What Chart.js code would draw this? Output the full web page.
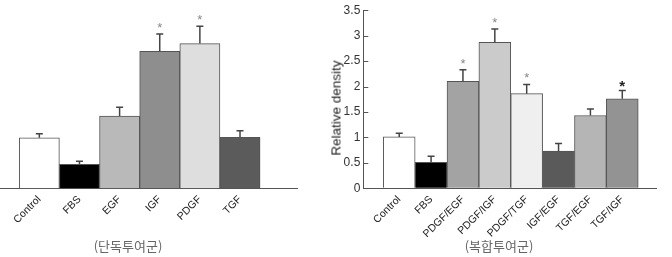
<!DOCTYPE html>
<html>
<head>
<meta charset="utf-8">
<script src="https://cdn.jsdelivr.net/npm/chart.js@4/dist/chart.umd.min.js"></script>
<style>
  html, body { margin: 0; padding: 0; background: #fff; }
  #wrap { position: relative; width: 672px; height: 257px; overflow: hidden; }
  .cv { position: absolute; top: 0; }
  .grp { position: absolute; top: 237px; font-family: "Noto Sans CJK KR", sans-serif; font-size: 13px; color: #666; white-space: nowrap; transform: translateX(-50%); line-height: 18px; }
  #ytitle { position: absolute; left: 336px; top: 108px; font-family: "Liberation Sans", Arial, sans-serif; font-size: 13.5px; color: #222; white-space: nowrap; transform: translate(-50%, -50%) rotate(-90deg); }
</style>
</head>
<body>
<div id="wrap">
  <div class="cv" style="left:0px;width:312px;height:257px"><canvas id="c1"></canvas></div>
  <div class="cv" style="left:300px;width:372px;height:257px"><canvas id="c2"></canvas></div>
  <div class="grp" style="left:128px">(단독투여군)</div>
  <div class="grp" style="left:499px">(복합투여군)</div>
  <div id="ytitle">Relative density</div>
</div>
<script>
// ---- data: single treatment (left) ----
const singleLabels = ["Control", "FBS", "EGF", "IGF", "PDGF", "TGF"];
const singleValues = [0.99, 0.47, 1.42, 2.69, 2.84, 1.00];
const singleErrors = [0.08, 0.06, 0.17, 0.34, 0.34, 0.13];
const singleSig    = [false, false, false, true, true, false];

// ---- data: combined treatment (right) ----
const comboLabels = ["Control", "FBS", "PDGF/EGF", "PDGF/IGF", "PDGF/TGF", "IGF/EGF", "TGF/EGF", "TGF/IGF"];
const comboValues = [1.01, 0.51, 2.10, 2.87, 1.86, 0.73, 1.43, 1.76];
const comboErrors = [0.07, 0.12, 0.23, 0.26, 0.18, 0.15, 0.13, 0.16];
const comboSig    = [false, false, true, true, true, false, false, true];

// ---- y scale ticks ----
const yMin = 0, yMax = 3.5, yStep = 0.5;

// ---- styles ----
const singleColors = ["#ffffff", "#000000", "#b9b9b9", "#8e8e8e", "#dedede", "#5b5b5b"];
const comboColors  = ["#ffffff", "#000000", "#a3a3a3", "#cbcbcb", "#efefef", "#5a5a5a", "#b5b5b5", "#939393"];
const AXIS = "#555";
const FONT = "'Liberation Sans', Arial, sans-serif";

const errorPlugin = {
  id: 'errorBars',
  afterDatasetsDraw(chart, args, opts) {
    const ctx = chart.ctx, xs = chart.scales.x, ys = chart.scales.y;
    ctx.save();
    opts.values.forEach((v, i) => {
      const x = xs.getPixelForValue(i);
      const yTop = ys.getPixelForValue(v);
      const yCap = ys.getPixelForValue(v + opts.errors[i]);
      ctx.strokeStyle = '#444';
      ctx.lineWidth = 1.5;
      ctx.beginPath();
      ctx.moveTo(x, yTop); ctx.lineTo(x, yCap);
      ctx.moveTo(x - 3.5, yCap); ctx.lineTo(x + 3.5, yCap);
      ctx.stroke();
      if (opts.sig[i]) {
        const strong = opts.strong === i;
        ctx.fillStyle = strong ? '#222' : '#888';
        ctx.font = (strong ? 'bold 15px ' : '13px ') + FONT;
        ctx.textAlign = 'center';
        ctx.textBaseline = 'alphabetic';
        ctx.fillText('*', x, yCap - (strong ? 0 : 2));
      }
    });
    ctx.restore();
  }
};

const innerTicks = {
  id: 'innerTicks',
  afterDraw(chart, args, opts) {
    if (!opts.enabled) return;
    const ctx = chart.ctx, ys = chart.scales.y, left = chart.chartArea.left;
    ctx.save();
    ctx.strokeStyle = AXIS; ctx.lineWidth = 1;
    ys.ticks.forEach(t => {
      const y = Math.round(ys.getPixelForValue(t.value)) + 0.5;
      ctx.beginPath(); ctx.moveTo(left, y); ctx.lineTo(left + 5, y); ctx.stroke();
    });
    ctx.restore();
  }
};

function makeChart(id, labels, values, errors, sig, colors, xMin, xMax, showY, padRight, yWidth, strong) {
  return new Chart(document.getElementById(id), {
    type: 'bar',
    data: {
      datasets: [{
        data: values.map((v, i) => ({ x: i, y: v })),
        backgroundColor: colors,
        borderColor: AXIS,
        borderWidth: 1,
        barPercentage: 1,
        categoryPercentage: 1
      }]
    },
    options: {
      responsive: true,
      maintainAspectRatio: false,
      animation: false,
      layout: { padding: { top: 10, left: 0, right: padRight, bottom: 0 } },
      plugins: {
        legend: { display: false },
        tooltip: { enabled: false },
        errorBars: { values, errors, sig, strong },
        innerTicks: { enabled: showY }
      },
      scales: {
        x: {
          type: 'linear',
          min: xMin, max: xMax,
          offset: false,
          grid: { display: false, offset: false, drawTicks: false },
          border: { display: true, color: AXIS, width: 1 },
          ticks: {
            stepSize: 1,
            includeBounds: false,
            autoSkip: false,
            maxRotation: 45, minRotation: 45,
            padding: 5,
            color: '#222',
            font: { family: FONT, size: 10.5 },
            callback: (v) => (Number.isInteger(v) && labels[v] !== undefined) ? labels[v] : ''
          },
          afterFit: (s) => { s.height = 68.7; }
        },
        y: {
          display: showY ? true : false,
          min: yMin, max: yMax,
          grid: { display: true, drawOnChartArea: false, drawTicks: false },
          border: { display: true, color: AXIS, width: 1 },
          ticks: {
            stepSize: yStep,
            padding: 3,
            color: '#333',
            font: { family: FONT, size: 12 },
            callback: (v) => String(Number(v.toFixed(2)))
          },
          afterFit: (s) => { if (yWidth) s.width = yWidth; }
        }
      }
    },
    plugins: [errorPlugin, innerTicks]
  });
}

makeChart('c1', singleLabels, singleValues, singleErrors, singleSig, singleColors, -0.98, 6.42, false, 15, 0, -1);
makeChart('c2', comboLabels, comboValues, comboErrors, comboSig, comboColors, -1.127, 8.08, true, 15.3, 63.3, 7);
</script>
</body>
</html>
